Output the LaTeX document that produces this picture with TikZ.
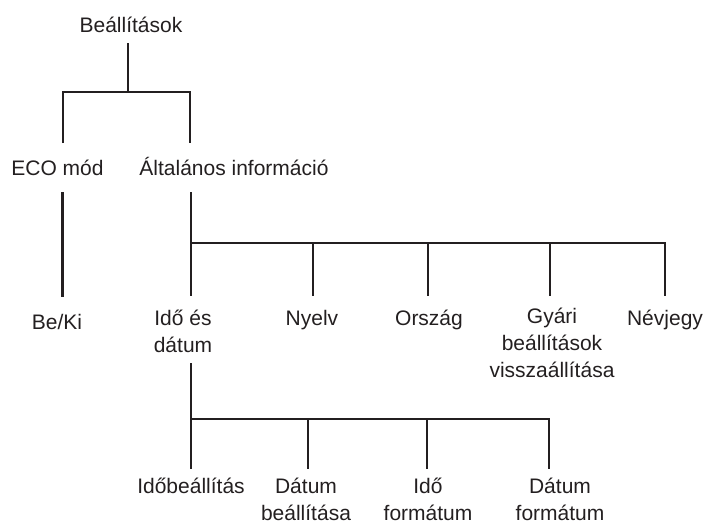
\documentclass[tikz,border=0pt]{standalone}
\usepackage{fontspec}
\setmainfont{Liberation Sans}
\definecolor{ink}{HTML}{231F20}
\begin{document}
\begin{tikzpicture}[x=1pt,y=-1pt,
  lbl/.style={anchor=base,inner sep=0pt,align=center,text=ink,font=\fontsize{21}{27}\selectfont},
  link/.style={draw=ink,line width=2.8pt}]
\useasboundingbox (0,0) rectangle (706,525);
% nodes (base anchor = baseline of the last line)
\node[lbl] (root) at (131,32) {Beállítások};
\node[lbl] (eco) at (57.5,175) {ECO mód};
\node[lbl] (alt) at (234,175) {Általános információ};
\node[lbl] (beki) at (57,329) {Be/Ki};
\node[lbl] (ido) at (183,352) {Idő és\\dátum};
\node[lbl] (nyelv) at (312,325) {Nyelv};
\node[lbl] (orszag) at (429,325) {Ország};
\node[lbl] (gyari) at (552,377) {Gyári\\beállítások\\visszaállítása};
\node[lbl] (nevjegy) at (665,325) {Névjegy};
\node[lbl] (idobe) at (191,493) {Időbeállítás};
\node[lbl] (datumbe) at (306,520) {Dátum\\beállítása};
\node[lbl] (idoform) at (428,520) {Idő\\formátum};
\node[lbl] (datumform) at (560,520) {Dátum\\formátum};
% connector end points
\coordinate (root-out) at (128,43);
\coordinate (root-bus) at (128,92);
\coordinate (eco-in) at (63,143);
\coordinate (alt-in) at (190,143);
\coordinate (eco-out) at (62.5,192);
\coordinate (beki-in) at (62.5,297);
\coordinate (alt-out) at (191,192);
\coordinate (alt-bus) at (191,243);
\coordinate (ido-in) at (191,296);
\coordinate (nyelv-in) at (313,296);
\coordinate (orszag-in) at (428,296);
\coordinate (gyari-in) at (550,296);
\coordinate (nevjegy-in) at (665,296);
\coordinate (ido-out) at (191,363);
\coordinate (ido-bus) at (191,419);
\coordinate (idobe-in) at (191,469);
\coordinate (datumbe-in) at (308,469);
\coordinate (idoform-in) at (427,469);
\coordinate (datumform-in) at (549,469);
% connectors
\draw[link] (root-out) -- (root-bus);
\draw[link] (eco-in) |- (root-bus) -| (alt-in);
\draw[link] (eco-out) -- (beki-in);
\draw[link] (alt-out) -- (ido-in);
\draw[link] (alt-bus) -| (nyelv-in);
\draw[link] (alt-bus) -| (orszag-in);
\draw[link] (alt-bus) -| (gyari-in);
\draw[link] (alt-bus) -| (nevjegy-in);
\draw[link] (ido-out) -- (idobe-in);
\draw[link] (ido-bus) -| (datumbe-in);
\draw[link] (ido-bus) -| (idoform-in);
\draw[link] (ido-bus) -| (datumform-in);
\end{tikzpicture}
\end{document}
